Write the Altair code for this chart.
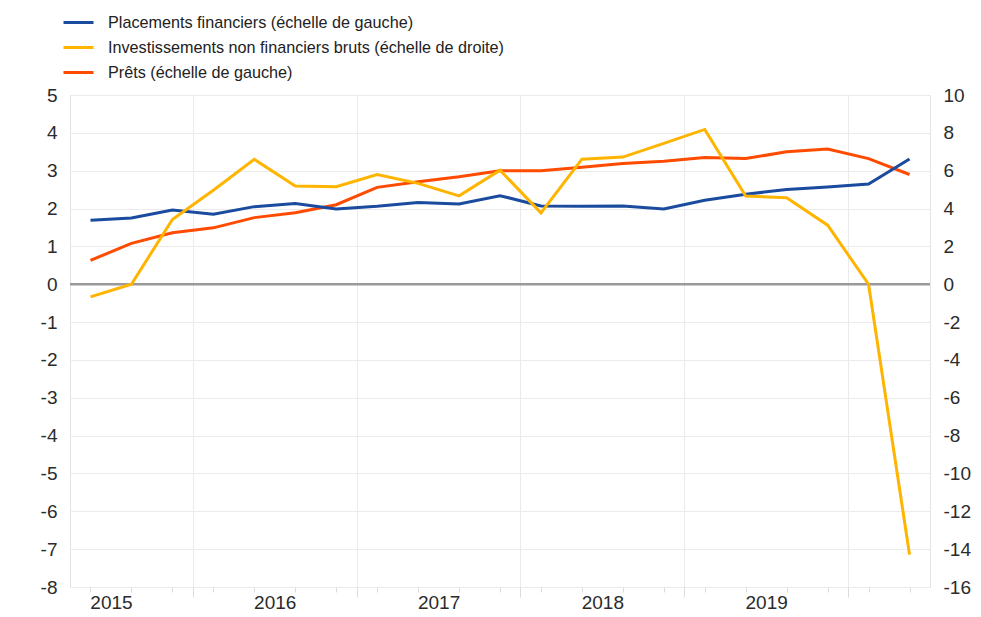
import altair as alt
import pandas as pd

# quarterly observations, index 0..20
quarters = list(range(21))
placements = [1.69, 1.75, 1.96, 1.85, 2.05, 2.13, 1.99, 2.06, 2.16, 2.12, 2.34,
              2.07, 2.06, 2.07, 1.99, 2.22, 2.38, 2.50, 2.57, 2.65, 3.31]
prets = [0.63, 1.08, 1.36, 1.49, 1.76, 1.89, 2.10, 2.56, 2.71, 2.84, 3.00,
         3.00, 3.09, 3.19, 3.25, 3.35, 3.32, 3.50, 3.57, 3.32, 2.90]
invest = [-0.67, 0.0, 3.42, 4.97, 6.60, 5.19, 5.15, 5.80, 5.33, 4.67, 6.03,
          3.77, 6.61, 6.72, 7.44, 8.18, 4.66, 4.57, 3.12, 0.0, -14.29]

year_labels = [2015, 2016, 2017, 2018, 2019]
year_label_pos = [0.5, 4.5, 8.5, 12.5, 16.5]
year_bounds = [2.5, 6.5, 10.5, 14.5, 18.5]
left_ticks = list(range(-8, 6))
right_ticks = list(range(-16, 11, 2))

S1 = "Placements financiers (échelle de gauche)"
S2 = "Investissements non financiers bruts (échelle de droite)"
S3 = "Prêts (échelle de gauche)"

df_blue = pd.DataFrame({"q": quarters, "value": placements, "series": S1})
df_orange = pd.DataFrame({"q": quarters, "value": prets, "series": S3})
df_yellow = pd.DataFrame({"q": quarters, "value": invest, "series": S2})
df_zero = pd.DataFrame({"v": [0]})

FONT = "Liberation Sans"
GRID = "#ebebeb"
TXT = "#2b2b2b"

xscale = alt.Scale(domain=[-0.5, 20.5], nice=False, zero=False)
lscale = alt.Scale(domain=[-8, 5], nice=False, zero=False)
rscale = alt.Scale(domain=[-16, 10], nice=False, zero=False)

is_bound = "(datum.value - 2.5) % 4 == 0"
is_label = "(datum.value - 0.5) % 4 == 0"

x_values = sorted(set(quarters + year_bounds + year_label_pos))

color = alt.Color(
    "series:N",
    scale=alt.Scale(domain=[S1, S2, S3], range=["#1a4b9e", "#ffb400", "#ff4b00"]),
    legend=alt.Legend(
        title=None, orient="none", legendX=-8, legendY=-89, direction="vertical",
        symbolType="stroke", symbolStrokeWidth=3, symbolSize=900,
        labelFontSize=16.2, labelFont=FONT, labelColor="#222",
        labelOffset=13, rowPadding=-2, padding=0, labelLimit=800,
    ),
)

xaxis = alt.Axis(
    orient="bottom", values=x_values, title=None, domain=False,
    grid=True, gridColor=GRID,
    gridOpacity={"condition": {"test": is_bound, "value": 1}, "value": 0},
    ticks=True, tickColor="#dcdcdc",
    tickSize={"condition": {"test": is_bound, "value": 10}, "value": 5},
    tickOpacity={"condition": {"test": is_label, "value": 0}, "value": 1},
    labelExpr=f"{is_label} ? '' + (2015 + floor(datum.value / 4)) : ''",
    labelPadding=1, labelFontSize=19, labelFont=FONT, labelColor=TXT,
    labelOverlap=False, labelBound=False, labelFlush=False,
)

zero = alt.Chart(df_zero).mark_rule(color="#9a9a9a", strokeWidth=2.5).encode(
    y=alt.Y("v:Q", scale=lscale, axis=None)
)

blue = alt.Chart(df_blue).mark_line(strokeWidth=3).encode(
    x=alt.X("q:Q", scale=xscale, axis=xaxis),
    y=alt.Y("value:Q", scale=lscale, axis=alt.Axis(
        orient="left", values=left_ticks, grid=True, gridColor=GRID,
        ticks=False, tickSize=0, domain=False, labelPadding=13,
        labelFontSize=19, labelFont=FONT, labelColor=TXT, title=None,
        labelExpr="'' + datum.value")),
    color=color,
)

orange = alt.Chart(df_orange).mark_line(strokeWidth=3).encode(
    x=alt.X("q:Q", scale=xscale, axis=xaxis),
    y=alt.Y("value:Q", scale=lscale, axis=None),
    color=color,
)

yellow = alt.Chart(df_yellow).mark_line(strokeWidth=3).encode(
    x=alt.X("q:Q", scale=xscale, axis=xaxis),
    y=alt.Y("value:Q", scale=rscale, axis=alt.Axis(
        orient="right", values=right_ticks, grid=False, ticks=False,
        tickSize=0, domain=False, labelPadding=13, labelFontSize=19,
        labelFont=FONT, labelColor=TXT, title=None,
        labelExpr="'' + datum.value")),
    color=color,
)

chart = alt.layer(zero, orange, blue, yellow).resolve_scale(
    y="independent"
).properties(
    width=860, height=492,
    autosize=alt.AutoSizeParams(type="none"),
    padding={"left": 70, "top": 95, "right": 51, "bottom": 30},
).configure_view(stroke="#e3e3e3", strokeWidth=1)

chart.save("out.html", embed_options={"renderer": "svg", "actions": False})
